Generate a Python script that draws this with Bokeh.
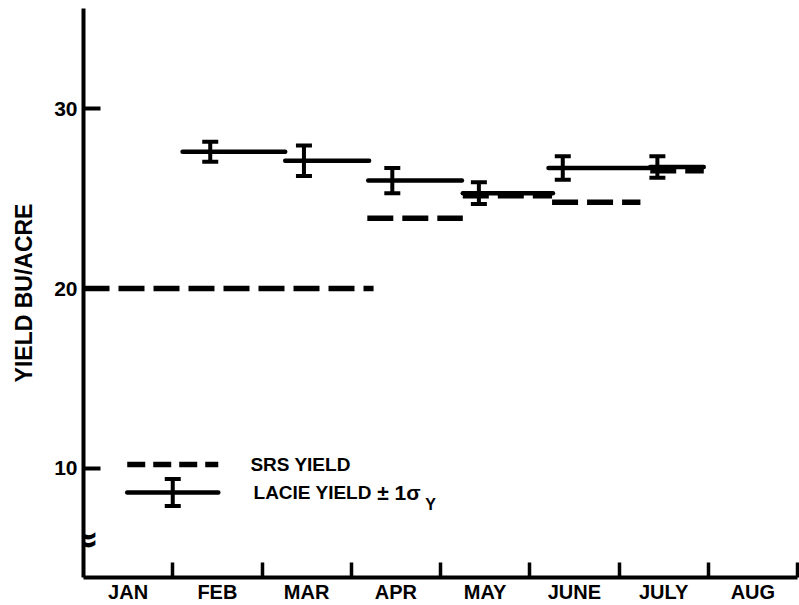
from bokeh.plotting import figure
from bokeh.models import ColumnDataSource, Whisker, TeeHead, FixedTicker, Range1d, Label
from bokeh.core.properties import value
from bokeh.embed import file_html
from bokeh.resources import INLINE

# ---------------- data ----------------
months = ["JAN", "FEB", "MAR", "APR", "MAY", "JUNE", "JULY", "AUG"]
month_centers = [0.5, 1.5, 2.5, 3.5, 4.5, 5.5, 6.5, 7.5]
month_bounds = [1, 2, 3, 4, 5, 6, 7, 8]
y_ticks = [10, 20, 30]

# LACIE estimates (month units, JAN starts at 0)
lacie_start = [1.11, 2.26, 3.19, 4.25, 5.21, 6.35]
lacie_end = [2.26, 3.20, 4.24, 5.26, 6.35, 6.95]
lacie_yield = [27.6, 27.1, 26.0, 25.3, 26.7, 26.75]
lacie_est_x = [1.42, 2.47, 3.46, 4.43, 5.37, 6.43]
lacie_sigma = [0.55, 0.85, 0.7, 0.6, 0.65, 0.6]

# SRS estimates
srs_start = [0.0, 3.18, 4.25, 5.25, 6.35]
srs_end = [3.25, 4.25, 5.25, 6.24, 6.95]
srs_yield = [20.0, 23.9, 25.15, 24.8, 26.55]

FONT = value("Liberation Sans")

p = figure(width=799, height=605,
           x_range=Range1d(0, 8), y_range=Range1d(3.94, 35.56),
           output_backend="svg", toolbar_location=None,
           min_border_left=83, min_border_right=2,
           min_border_top=8, min_border_bottom=28)
p.outline_line_color = None
p.xgrid.visible = False
p.ygrid.visible = False
p.background_fill_color = "white"

# x axis: month labels between boundary ticks
xa = p.xaxis[0]
xa.ticker = FixedTicker(ticks=month_centers, minor_ticks=month_bounds)
xa.major_label_overrides = {c: m for c, m in zip(month_centers, months)}
xa.major_tick_line_color = None
xa.major_tick_in = 0
xa.major_tick_out = 0
xa.minor_tick_in = 15
xa.minor_tick_out = 0
xa.minor_tick_line_width = 3.5
xa.minor_tick_line_color = "black"
xa.axis_line_width = 4
xa.axis_line_color = "black"
xa.major_label_text_font = "Liberation Sans"
xa.major_label_text_font_style = "bold"
xa.major_label_text_font_size = "20px"
xa.major_label_text_color = "black"
xa.major_label_standoff = 3

# y axis
ya = p.yaxis[0]
ya.ticker = FixedTicker(ticks=y_ticks, minor_ticks=[])
ya.major_tick_in = 17
ya.major_tick_out = 0
ya.major_tick_line_width = 4
ya.major_tick_line_color = "black"
ya.minor_tick_line_color = None
ya.axis_line_width = 4
ya.axis_line_color = "black"
ya.major_label_text_font = "Liberation Sans"
ya.major_label_text_font_style = "bold"
ya.major_label_text_font_size = "21px"
ya.major_label_text_color = "black"
ya.major_label_standoff = 6
ya.axis_label = "YIELD BU/ACRE"
ya.axis_label_text_font = "Liberation Sans"
ya.axis_label_text_font_style = "bold"
ya.axis_label_text_font_size = "23px"
ya.axis_label_text_color = "black"
ya.axis_label_standoff = 14

# SRS yield (dashed)
p.segment(x0=srs_start, y0=srs_yield, x1=srs_end, y1=srs_yield,
          line_color="black", line_width=5.5, line_dash="26 9")

# LACIE yield (solid) with ±1 sigma bars
p.segment(x0=lacie_start, y0=lacie_yield, x1=lacie_end, y1=lacie_yield,
          line_color="black", line_width=4.5, line_cap="round")
err_src = ColumnDataSource(dict(
    x=lacie_est_x,
    upper=[v + s for v, s in zip(lacie_yield, lacie_sigma)],
    lower=[v - s for v, s in zip(lacie_yield, lacie_sigma)],
))
p.add_layout(Whisker(source=err_src, base="x", upper="upper", lower="lower",
                     line_width=4, line_color="black",
                     upper_head=TeeHead(size=16, line_width=4, line_color="black"),
                     lower_head=TeeHead(size=16, line_width=4, line_color="black")))

# ---------------- legend (drawn by hand) ----------------
LEG_X0, LEG_X1 = 0.49, 1.51
SRS_LEG_Y, LACIE_LEG_Y = 10.22, 8.67
LEG_ERR_X, LEG_SIG = 1.0, 0.75
p.segment(x0=[LEG_X0], y0=[SRS_LEG_Y], x1=[LEG_X1], y1=[SRS_LEG_Y],
          line_color="black", line_width=5.5, line_dash="18 8")
p.segment(x0=[LEG_X0], y0=[LACIE_LEG_Y], x1=[LEG_X1], y1=[LACIE_LEG_Y],
          line_color="black", line_width=4.5, line_cap="round")
leg_src = ColumnDataSource(dict(x=[LEG_ERR_X], upper=[LACIE_LEG_Y + LEG_SIG],
                                lower=[LACIE_LEG_Y - LEG_SIG]))
p.add_layout(Whisker(source=leg_src, base="x", upper="upper", lower="lower",
                     line_width=4, line_color="black",
                     upper_head=TeeHead(size=16, line_width=4, line_color="black"),
                     lower_head=TeeHead(size=16, line_width=4, line_color="black")))
p.text(x=[1.87], y=[SRS_LEG_Y], text=["SRS YIELD"], text_font=FONT,
       text_font_style="bold", text_font_size="19px", text_color="black",
       text_baseline="middle", text_align="left")
p.text(x=[1.905], y=[LACIE_LEG_Y], text=["LACIE YIELD"], text_font=FONT,
       text_font_style="bold", text_font_size="19px", text_color="black",
       text_baseline="middle", text_align="left")
p.text(x=[3.29], y=[LACIE_LEG_Y], text=["\u00b1 1\u03c3"], text_font=FONT,
       text_font_style="bold", text_font_size="21px", text_color="black",
       text_baseline="middle", text_align="left")
p.text(x=[3.83], y=[8.0], text=["Y"], text_font=FONT,
       text_font_style="bold", text_font_size="16px", text_color="black",
       text_baseline="middle", text_align="left")

# axis break mark
p.add_layout(Label(x=0.0, y=6.08, text="\u2248", text_font="DejaVu Sans",
                   text_font_style="bold", text_font_size="38px", text_color="black",
                   text_baseline="middle", text_align="center"))

open("out.html", "w").write(file_html(p, INLINE))
